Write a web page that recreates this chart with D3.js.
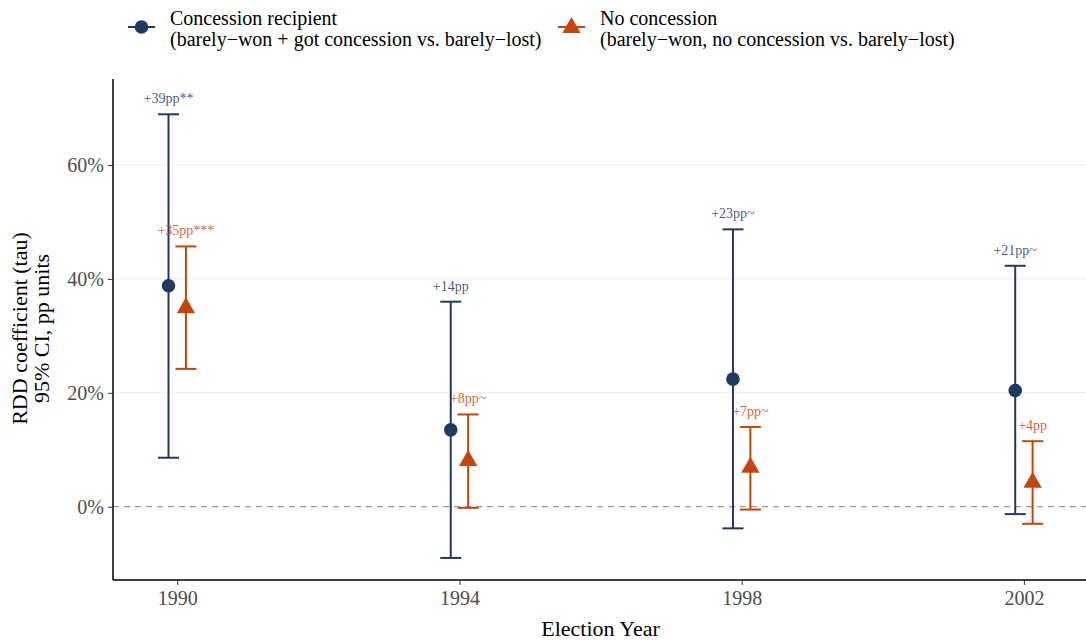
<!DOCTYPE html>
<html><head><meta charset="utf-8">
<script src="https://cdn.jsdelivr.net/npm/d3@7"></script>
<style>body{margin:0;background:#fff}svg{display:block}text{font-family:"Liberation Serif","Times New Roman",serif}</style>
</head><body><svg id="c" width="1086" height="640"></svg>
<script>
const years = [1990, 1994, 1998, 2002];
const seriesNames = ["Concession recipient", "No concession"];
const seriesSub = ["(barely\u2212won + got concession vs. barely\u2212lost)", "(barely\u2212won, no concession vs. barely\u2212lost)"];
const recipEst = [38.8, 13.5, 22.4, 20.4];
const recipLo = [8.6, -9.0, -3.8, -1.3];
const recipHi = [68.9, 36.0, 48.7, 42.3];
const recipLbl = ["+39pp**", "+14pp", "+23pp~", "+21pp~"];
const noEst = [35.0, 8.2, 7.0, 4.4];
const noLo = [24.2, -0.2, -0.5, -3.0];
const noHi = [45.7, 16.2, 14.0, 11.5];
const noLbl = ["+35pp***", "+8pp~", "+7pp~", "+4pp"];
const yTicks = [0, 20, 40, 60];

const colors = ["#1f3a5f", "#c4450f"];
const svg = d3.select("#c");
const L = 113, R = 1086, T = 79, B = 580;
const x = d3.scaleLinear().domain([1989.09, 2002.88]).range([L, R]);
const y = d3.scaleLinear().domain([-12.87, 75.1]).range([B, T]);
const dodge = [-8.7, 8.7];

// grid
svg.append("g").selectAll("line").data(yTicks.filter(d => d !== 0)).join("line")
  .attr("x1", L).attr("x2", R).attr("y1", d => y(d)).attr("y2", d => y(d))
  .attr("stroke", "#ebebeb").attr("stroke-width", 1);
// zero line
svg.append("line").attr("x1", L).attr("x2", R).attr("y1", y(0)).attr("y2", y(0))
  .attr("stroke", "#9a9a9a").attr("stroke-width", 1.2).attr("stroke-dasharray", "6,5");

// axes
const yAxis = d3.axisLeft(y).tickValues(yTicks).tickFormat(d => d + "%").tickSize(5).tickPadding(4);
const gy = svg.append("g").attr("transform", `translate(${L},0)`).call(yAxis);
gy.select(".domain").attr("stroke", "#000").attr("stroke-width", 1.5).attr("d", `M0,${T}V${B}`);
gy.selectAll(".tick line").attr("stroke", "#333");
gy.selectAll(".tick text").attr("fill", "#4d4d4d").style("font-size", "20px").style("font-family", '"Liberation Serif",serif');

const xAxis = d3.axisBottom(x).tickValues(years).tickFormat(d3.format("d")).tickSize(5).tickPadding(6);
const gx = svg.append("g").attr("transform", `translate(0,${B})`).call(xAxis);
gx.select(".domain").attr("stroke", "#000").attr("stroke-width", 1.5).attr("d", `M${L},0H${R}`);
gx.selectAll(".tick line").attr("stroke", "#333");
gx.selectAll(".tick text").attr("fill", "#4d4d4d").style("font-size", "20px").style("font-family", '"Liberation Serif",serif');

// axis titles
svg.append("text").attr("x", (L + R) / 2 + 1).attr("y", 636).attr("text-anchor", "middle")
  .style("font-size", "22px").attr("fill", "#000").text("Election Year");
const yt = svg.append("text").attr("transform", `translate(27,${(T + B) / 2 - 1}) rotate(-90)`)
  .attr("text-anchor", "middle").style("font-size", "22px").attr("fill", "#000");
yt.append("tspan").attr("x", 0).attr("dy", 0).text("RDD coefficient (tau)");
yt.append("tspan").attr("x", 0).attr("dy", 22).text("95% CI, pp units");

const series = [
  {est: recipEst, lo: recipLo, hi: recipHi, lbl: recipLbl},
  {est: noEst, lo: noLo, hi: noHi, lbl: noLbl}
];
const capW = 10.5;
series.forEach((s, si) => {
  const g = svg.append("g");
  const data = years.map((yr, i) => ({cx: x(yr) + dodge[si], est: s.est[i], lo: s.lo[i], hi: s.hi[i], lbl: s.lbl[i]}));
  const col = colors[si];
  g.selectAll(".v").data(data).join("line").attr("x1", d => d.cx).attr("x2", d => d.cx)
    .attr("y1", d => y(d.lo)).attr("y2", d => y(d.hi)).attr("stroke", col).attr("stroke-width", 2);
  g.selectAll(".t").data(data).join("line").attr("x1", d => d.cx - capW).attr("x2", d => d.cx + capW)
    .attr("y1", d => y(d.hi)).attr("y2", d => y(d.hi)).attr("stroke", col).attr("stroke-width", 2);
  g.selectAll(".b").data(data).join("line").attr("x1", d => d.cx - capW).attr("x2", d => d.cx + capW)
    .attr("y1", d => y(d.lo)).attr("y2", d => y(d.lo)).attr("stroke", col).attr("stroke-width", 2);
  if (si === 0) {
    g.selectAll("circle").data(data).join("circle").attr("cx", d => d.cx).attr("cy", d => y(d.est))
      .attr("r", 6.8).attr("fill", col);
  } else {
    g.selectAll("path").data(data).join("path")
      .attr("d", d => `M${d.cx},${y(d.est) - 10}L${d.cx + 9.2},${y(d.est) + 6}L${d.cx - 9.2},${y(d.est) + 6}Z`)
      .attr("fill", col);
  }
  g.selectAll("text").data(data).join("text").attr("x", d => d.cx).attr("y", d => y(d.hi) - 11)
    .attr("text-anchor", "middle").style("font-size", "14px").attr("fill", col).attr("fill-opacity", 0.85)
    .text(d => d.lbl);
});

// legend
const lg = svg.append("g");
lg.append("line").attr("x1", 128).attr("x2", 155).attr("y1", 27).attr("y2", 27).attr("stroke", colors[0]).attr("stroke-width", 2);
lg.append("circle").attr("cx", 141.5).attr("cy", 27).attr("r", 6.8).attr("fill", colors[0]);
lg.append("line").attr("x1", 558).attr("x2", 585).attr("y1", 27).attr("y2", 27).attr("stroke", colors[1]).attr("stroke-width", 2);
lg.append("path").attr("d", `M571.5,17L580.7,33L562.3,33Z`).attr("fill", colors[1]);
[[170, 0], [600, 1]].forEach(([lx, i]) => {
  lg.append("text").attr("x", lx).attr("y", 25).style("font-size", "20px").attr("fill", "#000").text(seriesNames[i]);
  lg.append("text").attr("x", lx).attr("y", 46).style("font-size", "20px").attr("fill", "#000").text(seriesSub[i]);
});
</script></body></html>
